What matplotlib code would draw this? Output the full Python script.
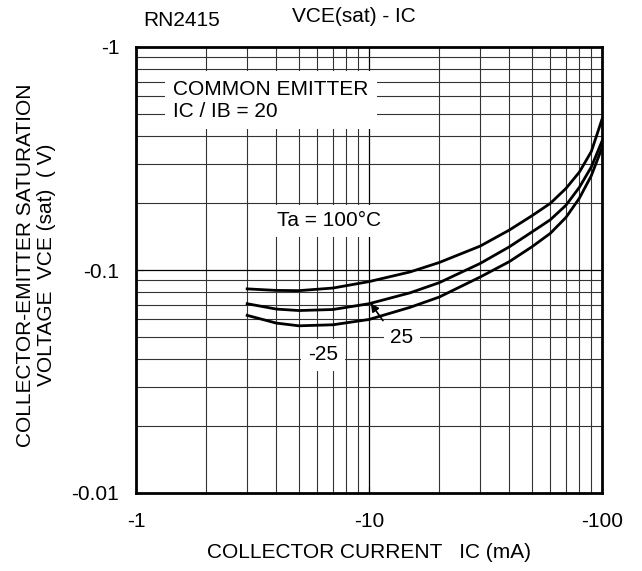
import numpy as np
import matplotlib.pyplot as plt
from matplotlib.ticker import FixedLocator, FixedFormatter, NullFormatter

plt.rcParams['font.family'] = ['Liberation Sans', 'DejaVu Sans']

# collector current |IC| (mA) and VCE(sat) magnitude (V)
ic = [3, 4, 5, 7, 10, 15, 20, 30, 40, 50, 60, 70, 80, 90, 100]
vce_100 = [0.0823, 0.0810, 0.0808, 0.0830, 0.0887, 0.098, 0.108, 0.128, 0.151,
           0.175, 0.199, 0.232, 0.275, 0.340, 0.474]
vce_25 = [0.0706, 0.0668, 0.0658, 0.0665, 0.0706, 0.079, 0.0877, 0.107, 0.127,
          0.148, 0.168, 0.195, 0.235, 0.290, 0.378]
vce_m25 = [0.0626, 0.0578, 0.0562, 0.0568, 0.0600, 0.068, 0.0756, 0.093, 0.109,
           0.127, 0.146, 0.172, 0.210, 0.265, 0.353]

x_ticks = [1, 10, 100]
x_labels = ['-1', '-10', '-100']
y_ticks = [0.01, 0.1, 1]
y_labels = ['-0.01', '-0.1', '-1']

FS = 15

fig = plt.figure(figsize=(6.42, 5.71), dpi=100)
ax = fig.add_axes([136 / 642, 78 / 571, 466 / 642, 446 / 571])
ax.set_xscale('log')
ax.set_yscale('log')
ax.set_xlim(1, 100)
ax.set_ylim(0.01, 1)

# grid at every 1..9 step of each decade
for d in [1, 10]:
    for k in range(2, 10):
        ax.axvline(k * d, color='#333333', lw=0.8, zorder=1)
ax.axvline(10, color='black', lw=0.9, zorder=1)
for d in [0.01, 0.1]:
    for k in range(2, 10):
        ax.axhline(k * d, color='#333333', lw=0.8, zorder=1)
ax.axhline(0.1, color='black', lw=0.9, zorder=1)

for v in [vce_100, vce_25, vce_m25]:
    ax.plot(ic, v, color='black', lw=2, zorder=5)

box = dict(facecolor='white', edgecolor='none', pad=5)
ax.text(1.44, 0.578, 'COMMON EMITTER\nIC / IB = 20', fontsize=FS, va='center',
        ha='left', linespacing=1.2,
        bbox=dict(facecolor='white', edgecolor='none', pad=6), zorder=4)
ax.text(6.73, 0.166, 'Ta = 100°C', fontsize=FS, ha='center', va='center', bbox=box, zorder=4)
ax.text(13.86, 0.0496, '25', fontsize=FS, ha='center', va='center', bbox=box, zorder=4)
ax.text(6.35, 0.0416, '-25', fontsize=FS, ha='center', va='center', bbox=box, zorder=4)
ax.annotate('', xy=(10.17, 0.0709), xytext=(11.48, 0.0593),
            arrowprops=dict(arrowstyle='-|>', color='black', lw=1.2, mutation_scale=12,
                            shrinkA=0, shrinkB=0), zorder=6)

ax.xaxis.set_major_locator(FixedLocator(x_ticks))
ax.xaxis.set_major_formatter(FixedFormatter(x_labels))
ax.xaxis.set_minor_formatter(NullFormatter())
ax.yaxis.set_major_locator(FixedLocator(y_ticks))
ax.yaxis.set_major_formatter(FixedFormatter(y_labels))
ax.yaxis.set_minor_formatter(NullFormatter())
ax.tick_params(which='major', direction='in', length=5, labelsize=FS)
ax.tick_params(axis='x', pad=14)
ax.tick_params(axis='y', pad=12)
ax.tick_params(which='minor', length=0)
for s in ax.spines.values():
    s.set_linewidth(2)

ax.set_xlabel('COLLECTOR CURRENT   IC (mA)', fontsize=FS, labelpad=8)
fig.text(36 / 642, 1 - 265 / 571, 'COLLECTOR-EMITTER SATURATION\nVOLTAGE  VCE (sat)  ( V)',
         fontsize=FS, rotation=90, ha='center', va='center', multialignment='center',
         linespacing=1.1)
fig.text(220 / 642, 1 - 20 / 571, 'RN2415', fontsize=FS, ha='right', va='center')
fig.text(292 / 642, 1 - 16 / 571, 'VCE(sat) - IC', fontsize=FS, va='center')

fig.savefig('out.png', dpi=100)
